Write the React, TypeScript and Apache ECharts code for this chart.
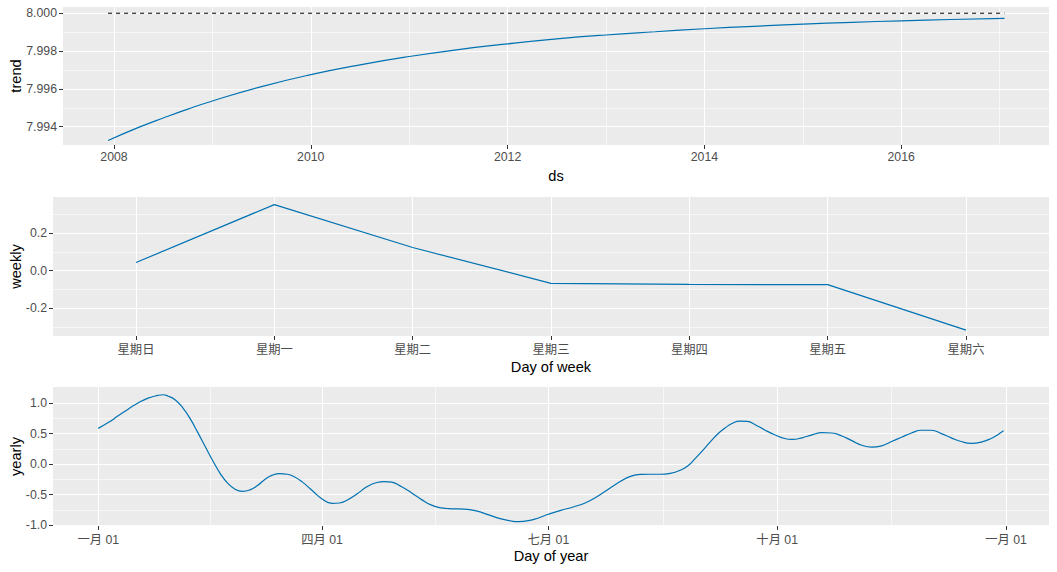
import React, { useEffect, useRef } from 'react';
import * as echarts from 'echarts';

// ---------- Trend panel ----------
const trendYears = [2007.94, 2008.25, 2008.5, 2008.75, 2009.0, 2009.5, 2010.0, 2010.5, 2011.0, 2011.5, 2012.0, 2012.5, 2013.0, 2013.5, 2014.0, 2014.5, 2015.0, 2015.5, 2016.0, 2016.5, 2017.05];
const trendValues = [7.99327, 7.99396, 7.99446, 7.99493, 7.99536, 7.99612, 7.99675, 7.99727, 7.99771, 7.99808, 7.99838, 7.99864, 7.99885, 7.99902, 7.99918, 7.99931, 7.99942, 7.99952, 7.9996, 7.99967, 7.99973];
const capValue = 8.0;
const trendXTicks = [2008, 2010, 2012, 2014, 2016];
const trendXMinor = [2009, 2011, 2013, 2015, 2017];
const trendYTicks = [7.994, 7.996, 7.998, 8.0];
const trendYMinor = [7.995, 7.997, 7.999];

// ---------- Weekly panel ----------
const weekdays = ['星期日', '星期一', '星期二', '星期三', '星期四', '星期五', '星期六'];
const weeklyValues = [0.043, 0.352, 0.123, -0.068, -0.074, -0.075, -0.318];
const weeklyYTicks = [-0.2, 0.0, 0.2];
const weeklyYMinor = [-0.3, -0.1, 0.1, 0.3];

// ---------- Yearly panel ----------
const yearlyDays = [0, 4, 8, 12, 16, 20, 24, 26, 28, 31, 34, 37, 40, 43, 46, 49, 52, 55, 58, 61, 64, 67, 70, 73, 76, 79, 82, 86, 90, 94, 97, 100, 104, 108, 112, 115, 118, 122, 126, 130, 134, 138, 142, 147, 152, 157, 162, 166, 169, 173, 177, 181, 186, 191, 196, 201, 206, 210, 214, 218, 222, 226, 230, 234, 237, 240, 243, 246, 249, 252, 255, 258, 261, 264, 268, 272, 276, 279, 283, 287, 291, 295, 299, 303, 307, 311, 315, 319, 323, 327, 331, 335, 339, 343, 347, 351, 355, 359, 362, 364];
const yearlyValues = [0.585, 0.68, 0.79, 0.9, 1.0, 1.08, 1.125, 1.135, 1.115, 1.05, 0.92, 0.74, 0.52, 0.29, 0.06, -0.15, -0.31, -0.41, -0.445, -0.42, -0.35, -0.25, -0.18, -0.155, -0.165, -0.21, -0.29, -0.43, -0.57, -0.64, -0.635, -0.59, -0.49, -0.37, -0.3, -0.285, -0.295, -0.37, -0.47, -0.58, -0.67, -0.715, -0.73, -0.735, -0.765, -0.83, -0.895, -0.93, -0.94, -0.925, -0.88, -0.82, -0.755, -0.7, -0.63, -0.52, -0.385, -0.28, -0.2, -0.168, -0.165, -0.165, -0.15, -0.1, -0.03, 0.09, 0.22, 0.36, 0.49, 0.59, 0.67, 0.705, 0.7, 0.65, 0.56, 0.48, 0.42, 0.405, 0.43, 0.48, 0.515, 0.51, 0.46, 0.385, 0.31, 0.28, 0.3, 0.37, 0.44, 0.51, 0.555, 0.555, 0.5, 0.43, 0.37, 0.34, 0.36, 0.42, 0.49, 0.545];
const yearlyXTicks = [0, 90, 181, 273, 365];
const yearlyXLabels = ['一月 01', '四月 01', '七月 01', '十月 01', '一月 01'];
const yearlyXMinor = [45, 135.5, 227, 319];
const yearlyYTicks = [-1.0, -0.5, 0.0, 0.5, 1.0];
const yearlyYMinor = [-0.75, -0.25, 0.25, 0.75];

const FONT = "'Liberation Sans', Arial, 'Noto Sans CJK SC', sans-serif";
const LINE_COLOR = '#0072B2';

function majorAxis(o: any) {
  return {
    type: 'value',
    gridIndex: o.gridIndex,
    min: o.min,
    max: o.max,
    position: o.position,
    name: o.name,
    nameLocation: 'middle',
    nameGap: o.nameGap,
    nameMoveOverlap: false,
    nameTextStyle: { color: '#000000', fontSize: 14.6, fontFamily: FONT },
    axisLine: { show: false, onZero: false },
    axisTick: { show: true, length: 4, customValues: o.ticks, lineStyle: { color: '#333333', width: 1 } },
    axisLabel: {
      show: true,
      customValues: o.ticks,
      formatter: o.fmt,
      color: '#4D4D4D',
      fontSize: 12.3,
      fontFamily: FONT,
      margin: o.margin ?? 6,
    },
    splitLine: { show: true, lineStyle: { color: '#FFFFFF', width: 1.1 } },
    minorTick: { show: false },
    minorSplitLine: { show: false },
  };
}

function minorAxis(o: any) {
  return {
    type: 'value',
    gridIndex: o.gridIndex,
    min: o.min,
    max: o.max,
    position: o.position,
    axisLine: { show: false, onZero: false },
    axisTick: { show: false, customValues: o.ticks },
    axisLabel: { show: false },
    splitLine: { show: true, lineStyle: { color: '#FFFFFF', width: 0.6 } },
  };
}

export default function App() {
  const ref = useRef<HTMLDivElement>(null);
  useEffect(() => {
    if (!ref.current) return;
    const chart = echarts.init(ref.current, undefined, { renderer: 'svg' });
    const T = { xmin: 2007.482, xmax: 2017.502, ymin: 7.99303, ymax: 8.00033 };
    const W = { xmin: -0.6, xmax: 6.6, ymin: -0.349, ymax: 0.3925 };
    const Y = { xmin: -18.2, xmax: 382.3, ymin: -1.0115, ymax: 1.262 };
    const option: any = {
      animation: false,
      backgroundColor: '#FFFFFF',
      grid: [
        { left: 63, right: 8, top: 7, height: 138, show: true, backgroundColor: '#EBEBEB', borderWidth: 0, outerBoundsMode: 'none' },
        { left: 53, right: 8, top: 197, height: 139, show: true, backgroundColor: '#EBEBEB', borderWidth: 0, outerBoundsMode: 'none' },
        { left: 53, right: 8, top: 387, height: 139, show: true, backgroundColor: '#EBEBEB', borderWidth: 0, outerBoundsMode: 'none' },
      ],
      xAxis: [
        majorAxis({ gridIndex: 0, min: T.xmin, max: T.xmax, position: 'bottom', ticks: trendXTicks, fmt: (v: number) => String(Math.round(v)), name: 'ds', nameGap: 24 }),
        minorAxis({ gridIndex: 0, min: T.xmin, max: T.xmax, position: 'top', ticks: trendXMinor }),
        majorAxis({ gridIndex: 1, min: W.xmin, max: W.xmax, position: 'bottom', ticks: [0, 1, 2, 3, 4, 5, 6], fmt: (v: number) => weekdays[Math.round(v)] ?? '', name: 'Day of week', nameGap: 24, margin: 8 }),
        majorAxis({ gridIndex: 2, min: Y.xmin, max: Y.xmax, position: 'bottom', ticks: yearlyXTicks, fmt: (v: number) => { const i = yearlyXTicks.indexOf(v); return i >= 0 ? yearlyXLabels[i] : ''; }, name: 'Day of year', nameGap: 23, margin: 8 }),
        minorAxis({ gridIndex: 2, min: Y.xmin, max: Y.xmax, position: 'top', ticks: yearlyXMinor }),
      ],
      yAxis: [
        majorAxis({ gridIndex: 0, min: T.ymin, max: T.ymax, position: 'left', ticks: trendYTicks, fmt: (v: number) => v.toFixed(3), name: 'trend', nameGap: 39.5 }),
        minorAxis({ gridIndex: 0, min: T.ymin, max: T.ymax, position: 'right', ticks: trendYMinor }),
        majorAxis({ gridIndex: 1, min: W.ymin, max: W.ymax, position: 'left', ticks: weeklyYTicks, fmt: (v: number) => v.toFixed(1), name: 'weekly', nameGap: 29.5 }),
        minorAxis({ gridIndex: 1, min: W.ymin, max: W.ymax, position: 'right', ticks: weeklyYMinor }),
        majorAxis({ gridIndex: 2, min: Y.ymin, max: Y.ymax, position: 'left', ticks: yearlyYTicks, fmt: (v: number) => v.toFixed(1), name: 'yearly', nameGap: 29.5 }),
        minorAxis({ gridIndex: 2, min: Y.ymin, max: Y.ymax, position: 'right', ticks: yearlyYMinor }),
      ],
      series: [
        {
          type: 'line', xAxisIndex: 0, yAxisIndex: 0, showSymbol: false, smooth: true,
          data: trendYears.map((x, i) => [x, trendValues[i]]),
          lineStyle: { color: LINE_COLOR, width: 1.2 }, silent: true,
        },
        {
          type: 'line', xAxisIndex: 0, yAxisIndex: 0, showSymbol: false,
          data: [[trendYears[0], capValue], [trendYears[trendYears.length - 1], capValue]],
          lineStyle: { color: '#000000', width: 1, type: [4, 4] }, silent: true,
        },
        {
          type: 'line', xAxisIndex: 2, yAxisIndex: 2, showSymbol: false,
          data: weeklyValues.map((v, i) => [i, v]),
          lineStyle: { color: LINE_COLOR, width: 1.2 }, silent: true,
        },
        {
          type: 'line', xAxisIndex: 3, yAxisIndex: 4, showSymbol: false, smooth: 0.5,
          data: yearlyDays.map((d, i) => [d, yearlyValues[i]]),
          lineStyle: { color: LINE_COLOR, width: 1.2 }, silent: true,
        },
      ],
    };
    chart.setOption(option);
    return () => chart.dispose();
  }, []);
  return <div ref={ref} style={{ position: 'fixed', left: 0, top: 0, width: 1057, height: 572 }} />;
}
